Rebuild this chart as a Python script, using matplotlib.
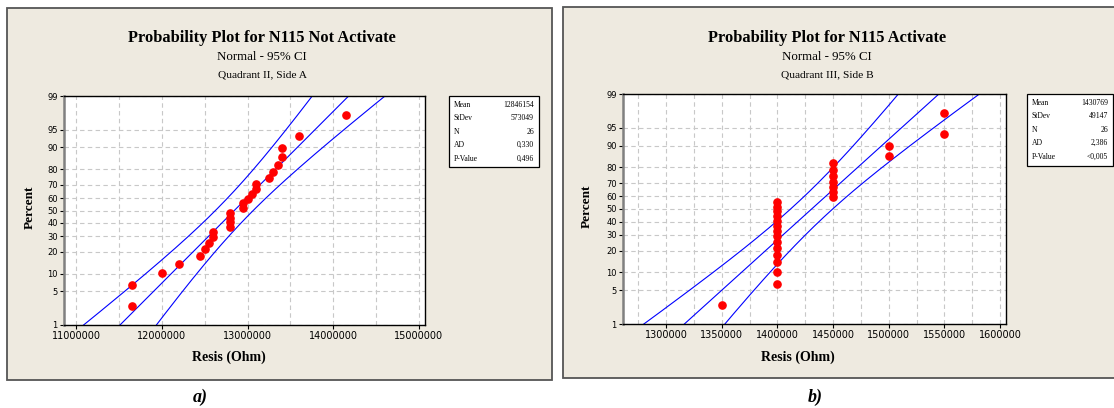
import matplotlib
matplotlib.use("Agg")
import matplotlib.pyplot as plt
from matplotlib.patches import Rectangle
from statistics import NormalDist
import numpy as np

# resistance readings (Ohm)
resis_not_activate = [11650000, 11650000, 12000000, 12200000, 12450000, 12500000,
                      12550000, 12600000, 12600000, 12800000, 12800000, 12800000,
                      12800000, 12950000, 12950000, 13000000, 13050000, 13100000,
                      13100000, 13250000, 13300000, 13350000, 13400000, 13400000,
                      13600000, 14150000]
resis_activate = [1350000] + [1400000] * 14 + [1450000] * 7 + [1500000] * 2 + [1550000] * 2

# summary boxes as printed on the chart
stat_names = ["Mean", "StDev", "N", "AD", "P-Value"]
stats_a = ["12846154", "573049", "26", "0,330", "0,496"]
stats_b = ["1430769", "49147", "26", "2,386", "<0,005"]
mean_a, sd_a = 12846154, 573049
mean_b, sd_b = 1430769, 49147

pct_ticks = [1, 5, 10, 20, 30, 40, 50, 60, 70, 80, 90, 95, 99]
xticks_a = [11000000, 12000000, 13000000, 14000000, 15000000]
xticks_b = [1300000, 1350000, 1400000, 1450000, 1500000, 1550000, 1600000]

W, H = 1114, 408
nd = NormalDist()
SERIF = "Liberation Serif"
SANS = "DejaVu Sans"
BG = "#EEEAE0"

fig = plt.figure(figsize=(W / 100, H / 100), dpi=100)
fig.patch.set_facecolor("white")


def fx(x):
    return x / W


def fy(y):
    return 1 - y / H


def panel_frame(x0, y0, x1, y1):
    fig.patches.append(Rectangle((fx(x0), fy(y1)), fx(x1 - x0), (y1 - y0) / H,
                                 transform=fig.transFigure, facecolor=BG,
                                 edgecolor="#555555", lw=1.3, zorder=-5))


def prob_panel(box, values, mean, sd, xticks, xminor, xlim, title, sub1, sub2,
               title_x, ylab_x, xlab_x, stats, sbox, caption, cap_x):
    x0, y0, x1, y1 = box
    ax = fig.add_axes([fx(x0), fy(y1), fx(x1 - x0), (y1 - y0) / H])
    ax.set_facecolor("white")

    # median ranks (Benard) -> normal quantiles
    vals = np.sort(np.array(values, dtype=float))
    n = len(vals)
    ranks = np.arange(1, n + 1)
    zpts = np.array([nd.inv_cdf((i - 0.3) / (n + 0.4)) for i in ranks])

    zline = np.linspace(nd.inv_cdf(0.005), nd.inv_cdf(0.995), 200)
    fit = mean + sd * zline
    half = 1.96 * sd * np.sqrt((1 + zline ** 2 / 2) / n)
    for xs in (fit, fit - half, fit + half):
        ax.plot(xs, zline, color="#0000FF", lw=0.8, zorder=2)
    ax.plot(vals, zpts, "o", color="#FF0000", ms=5.2, mec="#FF0000", zorder=3)

    ax.set_yticks([nd.inv_cdf(p / 100) for p in pct_ticks])
    ax.set_yticklabels([str(p) for p in pct_ticks], fontsize=6, family=SANS)
    ax.set_xticks(xticks)
    ax.set_xticklabels([str(t) for t in xticks], fontsize=7, family=SANS)
    ax.set_xticks(xminor, minor=True)
    ax.set_xlim(*xlim)
    ax.set_ylim(nd.inv_cdf(0.01), nd.inv_cdf(0.99))
    ax.tick_params(axis="both", which="major", direction="out", length=3,
                   width=0.8, pad=1.5)
    ax.tick_params(axis="x", which="minor", length=0)
    ax.grid(True, which="both", axis="x", color="#C8C8C8", ls=(0, (4, 3)), lw=0.8)
    ax.grid(True, which="major", axis="y", color="#C8C8C8", ls=(0, (4, 3)), lw=0.8)
    ax.set_axisbelow(True)
    for s in ("top", "right", "bottom"):
        ax.spines[s].set_color("black")
        ax.spines[s].set_linewidth(1.0)
    ax.spines["left"].set_color("#808080")
    ax.spines["left"].set_linewidth(1.8)

    fig.text(fx(title_x), fy(38), title, ha="center", va="center",
             fontsize=11.8, fontweight="bold", family=SERIF)
    fig.text(fx(title_x), fy(57), sub1, ha="center", va="center",
             fontsize=9.3, family=SERIF)
    fig.text(fx(title_x), fy(75), sub2, ha="center", va="center",
             fontsize=8.2, family=SERIF)
    fig.text(fx(ylab_x), fy((y0 + y1) / 2 - 3), "Percent", ha="center",
             va="center", rotation=90, fontsize=9.5, fontweight="bold", family=SERIF)
    fig.text(fx(xlab_x), fy(357), "Resis (Ohm)", ha="center", va="center",
             fontsize=10, fontweight="bold", family=SERIF)

    bx0, by0, bx1, by1 = sbox
    fig.patches.append(Rectangle((fx(bx0), fy(by1)), fx(bx1 - bx0), (by1 - by0) / H,
                                 transform=fig.transFigure, facecolor="white",
                                 edgecolor="black", lw=0.9, zorder=1))
    for i, (name, v) in enumerate(zip(stat_names, stats)):
        yy = by0 + 9 + 13.4 * i
        fig.text(fx(bx0 + 5), fy(yy), name, ha="left", va="center",
                 fontsize=5.5, family=SERIF, zorder=2)
        fig.text(fx(bx1 - 5), fy(yy), v, ha="right", va="center",
                 fontsize=5.5, family=SERIF, zorder=2)

    fig.text(fx(cap_x), fy(397), caption, ha="center", va="center",
             fontsize=13, fontweight="bold", style="italic", family=SERIF)
    return ax


panel_frame(7, 8, 552, 380)
panel_frame(563, 7, 1120, 378)

prob_panel((64, 96, 425, 325), resis_not_activate, mean_a, sd_a, xticks_a,
           np.arange(11000000, 15000001, 500000), (10860000, 15070000),
           "Probability Plot for N115 Not Activate", "Normal - 95% CI",
           "Quadrant II, Side A", 262, 30, 229, stats_a, (449, 96, 539, 167),
           "a)", 200)
prob_panel((623, 94, 1006, 324), resis_activate, mean_b, sd_b, xticks_b,
           np.arange(1275000, 1600001, 25000), (1261300, 1605400),
           "Probability Plot for N115 Activate", "Normal - 95% CI",
           "Quadrant III, Side B", 827, 587, 798, stats_b, (1027, 94, 1113, 166),
           "b)", 815)

fig.savefig("out.png", dpi=100, facecolor=fig.get_facecolor())
